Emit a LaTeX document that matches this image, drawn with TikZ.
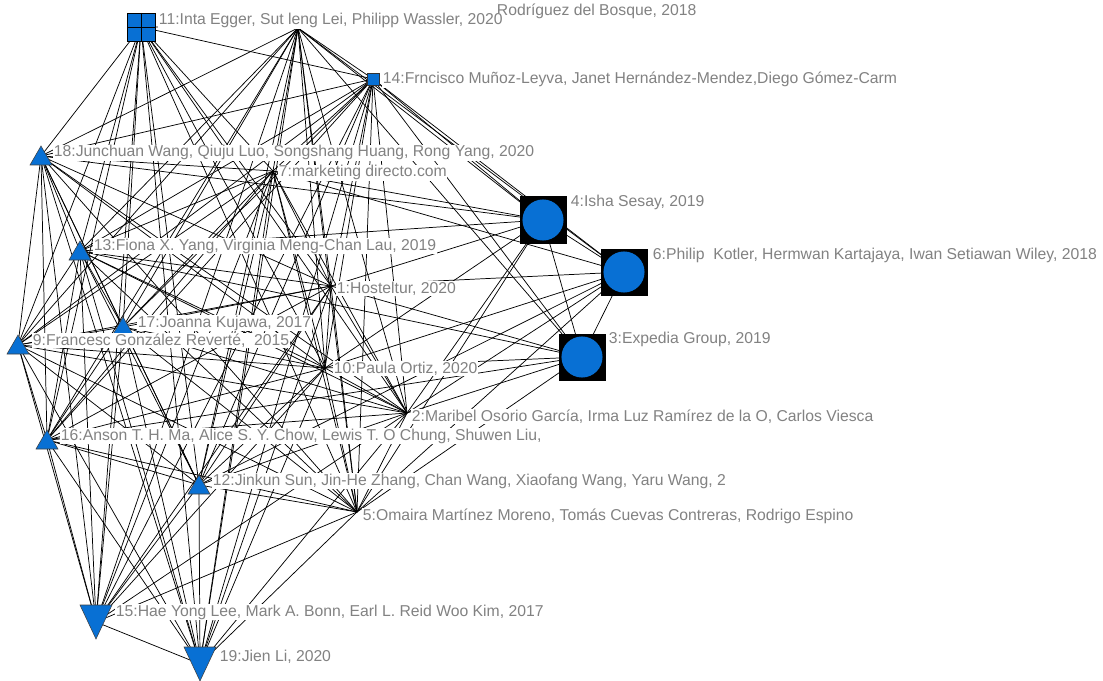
\documentclass[tikz,border=0pt]{standalone}
\usepackage{fontspec}
\setmainfont{Liberation Sans}
\definecolor{nodeblue}{RGB}{8,112,212}
\definecolor{labelgray}{RGB}{130,130,130}
\begin{document}
\begin{tikzpicture}[x=0.75pt,y=-0.75pt,
  edge/.style={draw=black,line width=0.55pt},
  lbl/.style={anchor=base west,text=labelgray,fill=white,inner sep=0.5pt,font=\fontsize{11.8}{13}\selectfont},
  tri/.style={fill=nodeblue,draw=black!75,line width=0.4pt},
  bigsq/.style={fill=black},
  bigdot/.style={fill=nodeblue}]
\useasboundingbox (0,0) rectangle (1103,681);
\fill[white] (0,0) rectangle (1103,681);
% node positions
\coordinate (n1) at (331,286);
\coordinate (n2) at (407,413);
\coordinate (n3) at (582,357);
\coordinate (n4) at (543,220);
\coordinate (n5) at (357,512);
\coordinate (n6) at (624,272);
\coordinate (n7) at (273,171);
\coordinate (n8) at (298,28);
\coordinate (n9) at (18,345);
\coordinate (n10) at (325,368);
\coordinate (n11) at (141,27);
\coordinate (n12) at (199,485);
\coordinate (n13) at (80,251);
\coordinate (n14) at (373,79);
\coordinate (n15) at (96,622);
\coordinate (n16) at (47,440);
\coordinate (n17) at (123,327);
\coordinate (n18) at (41,156);
\coordinate (n19) at (200,664);
% edges: left cluster
\foreach \a [count=\i] in {1,2,5,7,8,9,10,11,12,13,14,15,16,17,18,19}{
  \foreach \b [count=\j] in {1,2,5,7,8,9,10,11,12,13,14,15,16,17,18,19}{
    \ifnum\i<\j \draw[edge] (n\a) -- (n\b);\fi
  }
}
% edges: right group
\foreach \a/\b in {4/3,4/6,6/3,
  4/1,4/2,4/5,4/7,4/8,4/10,4/14,4/13,4/18,
  6/1,6/2,6/5,6/7,6/8,6/10,6/14,6/12,
  3/1,3/2,3/5,3/10,3/8,3/14,3/13,3/16}{
  \draw[edge] (n\a) -- (n\b);
}
% shapes
\fill[bigsq] (n4) ++(-23.5,-23.5) rectangle ++(47,47);
\fill[bigdot] (n4) circle[radius=15.4pt];
\fill[bigsq] (n6) ++(-23.5,-23.5) rectangle ++(47,47);
\fill[bigdot] (n6) circle[radius=15.4pt];
\fill[bigsq] (n3) ++(-23.5,-23.5) rectangle ++(47,47);
\fill[bigdot] (n3) circle[radius=15.4pt];
\filldraw[fill=nodeblue,draw=black,line width=0.6pt] (n11) ++(-14,-14) rectangle ++(28,28);
\draw[black,line width=0.6pt] (n11) ++(0,-14) -- ++(0,28);
\draw[black,line width=0.6pt] (n11) ++(-14,0) -- ++(28,0);
\filldraw[fill=nodeblue,draw=black!80,line width=0.4pt] (n14) ++(-6,-6) rectangle ++(12,12);
\foreach \n in {18,13,17,9,16,12}{
  \filldraw[tri] (n\n) ++(0,-10) -- ++(11,19) -- ++(-22,0) -- cycle;
}
\foreach \n in {15,19}{
  \filldraw[tri] (n\n) ++(0,17) -- ++(16,-34) -- ++(-32,0) -- cycle;
}
% labels
\node[lbl] (l8) at (496,16) {Rodríguez del Bosque, 2018};
\node[lbl] (l11) at (158,25) {11:Inta Egger, Sut leng Lei, Philipp Wassler, 2020};
\node[lbl] (l14) at (382,84) {14:Frncisco Muñoz-Leyva, Janet Hernández-Mendez,Diego Gómez-Carm};
\node[lbl] (l18) at (53,157) {18:Junchuan Wang, Qiuju Luo, Songshang Huang, Rong Yang, 2020};
\node[lbl] (l7) at (278,177) {7:marketing directo.com};
\node[lbl] (l4) at (570,207) {4:Isha Sesay, 2019};
\node[lbl] (l6) at (652,259) {6:Philip\ \ Kotler, Hermwan Kartajaya, Iwan Setiawan Wiley, 2018};
\node[lbl] (l13) at (93,250) {13:Fiona X. Yang, Virginia Meng-Chan Lau, 2019};
\node[lbl] (l1) at (336,293) {1:Hosteltur, 2020};
\node[lbl] (l17) at (137,327) {17:Joanna Kujawa, 2017};
\node[lbl] (l3) at (608,343) {3:Expedia Group, 2019};
\node[lbl] (l9) at (32,345) {9:Francesc González Reverté,\ \ 2015};
\node[lbl] (l10) at (333,373) {10:Paula Ortiz, 2020};
\node[lbl] (l2) at (411,421) {2:Maribel Osorio García, Irma Luz Ramírez de la O, Carlos Viesca};
\node[lbl] (l16) at (60,440) {16:Anson T. H. Ma, Alice S. Y. Chow, Lewis T. O Chung, Shuwen Liu,};
\node[lbl] (l12) at (212,485) {12:Jinkun Sun, Jin-He Zhang, Chan Wang, Xiaofang Wang, Yaru Wang, 2};
\node[lbl] (l5) at (362,520) {5:Omaira Martínez Moreno, Tomás Cuevas Contreras, Rodrigo Espino};
\node[lbl] (l15) at (115,616) {15:Hae Yong Lee, Mark A. Bonn, Earl L. Reid Woo Kim, 2017};
\node[lbl] (l19) at (219,661) {19:Jien Li, 2020};
\end{tikzpicture}
\end{document}
